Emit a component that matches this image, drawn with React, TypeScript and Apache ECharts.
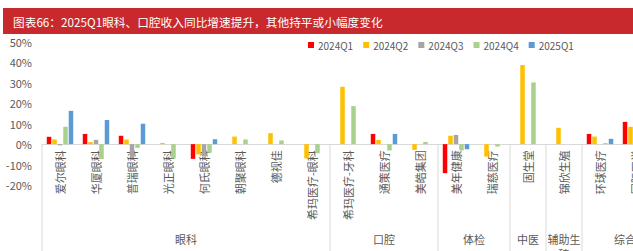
import React, { useEffect, useRef } from "react";
import * as echarts from "echarts";

const categories = [
  "爱尔眼科", "华厦眼科", "普瑞眼科", "光正眼科", "何氏眼科", "朝聚眼科", "德视佳", "希玛医疗-眼科",
  "希玛医疗-牙科", "通策医疗", "美皓集团", "美年健康", "瑞慈医疗", "固生堂", "锦欣生殖", "环球医疗", "国际医学", "",
];
const groupNames = ["眼科", "口腔", "体检", "中医", "辅助生殖", "综合医院"];
const groupSizes = [8, 3, 2, 1, 1, 3];

const seriesNames = ["2024Q1", "2024Q2", "2024Q3", "2024Q4", "2025Q1"];
const colors = ["#FF0000", "#FFC000", "#A5A5A5", "#A9D18E", "#5B9BD5"];

const q1_2024 = [3.6, 5.0, 4.1, 0, -7.2, 0, 0, 0, 0, 5.0, 0, -14.2, 0, 0, 0, 5.0, 10.9, null];
const q2_2024 = [2.3, 1.0, 2.3, 0.6, -5.0, 3.7, 5.4, -7.0, 28.1, 2.1, -2.8, 4.1, -6.1, 38.7, 8.0, 3.7, 8.5, null];
const q3_2024 = [-0.6, 2.1, -6.5, 0, -6.0, 0, 0, 0, 0, 0, 0, 4.5, 0, 0, 0, 0, 0, null];
const q4_2024 = [8.5, -7.3, -1.8, -7.0, -4.2, 2.3, 1.8, -4.5, 18.6, -3.1, 1.1, -3.1, -1.2, 30.2, 0, 0.5, 0, null];
const q1_2025 = [16.3, 11.8, 10.0, 0, 2.4, 0, 0, 0, 0, 5.0, 0, -2.5, 0, 0, 0, 2.6, 0, null];
const seriesData = [q1_2024, q2_2024, q3_2024, q4_2024, q1_2025];

const yTicks = { min: -20, max: 50, interval: 10 };
const titleText = "图表66：2025Q1眼科、口腔收入同比增速提升，其他持平或小幅度变化";

const FONT = "'Noto Sans CJK SC', 'Noto Sans', sans-serif";
const GRAY_TEXT = "#595959";
const LINE = "#D9D9D9";

export default function App() {
  const ref = useRef<HTMLDivElement>(null);
  useEffect(() => {
    if (!ref.current) return;
    const chart = echarts.init(ref.current, null, { renderer: "svg" });
    const option: any = {
      animation: false,
      textStyle: { fontFamily: FONT },
      grid: { left: 42, top: 42, width: 648, height: 143, outerBoundsMode: "none", containLabel: false },
      legend: {
        left: 308,
        top: 40,
        padding: 0,
        itemWidth: 6,
        itemHeight: 6,
        itemGap: 10,
        icon: "rect",
        textStyle: { fontSize: 10, color: GRAY_TEXT, fontFamily: FONT, padding: [0, 0, 0, -1] },
        data: seriesNames,
      },
      xAxis: {
        type: "category",
        data: categories,
        axisLine: { onZero: true, lineStyle: { color: LINE, width: 1 } },
        axisTick: { show: false },
        axisLabel: { show: false },
      },
      yAxis: {
        type: "value",
        min: yTicks.min,
        max: yTicks.max,
        interval: yTicks.interval,
        axisLine: { show: false },
        axisTick: { show: false },
        splitLine: { show: false },
        axisLabel: { formatter: "{value}%", fontSize: 11, color: GRAY_TEXT, margin: 10, fontFamily: FONT },
      },
      series: seriesNames.map((n, i) => ({
        name: n,
        type: "bar",
        data: seriesData[i],
        barWidth: 4.5,
        barGap: "22%",
        itemStyle: { color: colors[i] },
      })),
    };
    chart.setOption(option);

    const c0 = chart.convertToPixel({ xAxisIndex: 0 }, 0) as number;
    const c1 = chart.convertToPixel({ xAxisIndex: 0 }, 1) as number;
    const w = c1 - c0;
    const yZero = chart.convertToPixel({ yAxisIndex: 0 }, 0) as number;
    const graphics: any[] = [
      { type: "rect", shape: { x: 3, y: 8, width: 720, height: 26 }, style: { fill: "#C8292D" }, silent: true },
      {
        type: "text",
        x: 13,
        y: 21,
        style: { text: titleText, fill: "#FFFFFF", font: `11.7px ${FONT}`, textVerticalAlign: "middle" },
        silent: true,
      },
    ];
    categories.forEach((c, i) => {
      if (!c) return;
      const cx = chart.convertToPixel({ xAxisIndex: 0 }, i) as number;
      graphics.push({
        type: "text",
        x: cx,
        y: yZero + 6,
        rotation: Math.PI / 2,
        style: {
          text: c,
          fill: GRAY_TEXT,
          font: `11px ${FONT}`,
          textAlign: "right",
          textVerticalAlign: "middle",
          align: "right",
          verticalAlign: "middle",
        },
        silent: true,
      });
    });
    let idx = 0;
    const bottom = 260;
    graphics.push({ type: "line", shape: { x1: c0 - w / 2, y1: yZero, x2: c0 - w / 2, y2: bottom }, style: { stroke: LINE, lineWidth: 1 } });
    groupNames.forEach((g, gi) => {
      const start = c0 - w / 2 + idx * w;
      const end = start + groupSizes[gi] * w;
      idx += groupSizes[gi];
      graphics.push({ type: "line", shape: { x1: end, y1: yZero, x2: end, y2: bottom }, style: { stroke: LINE, lineWidth: 1 } });
      graphics.push({
        type: "text",
        x: (start + end) / 2,
        y: 231,
        style: {
          text: g,
          width: end - start,
          overflow: "break",
          lineHeight: 15,
          fill: GRAY_TEXT,
          font: `11px ${FONT}`,
          textAlign: "center",
          textVerticalAlign: "top",
          align: "center",
          verticalAlign: "top",
        },
      });
    });
    chart.setOption({ graphic: graphics });
    return () => chart.dispose();
  }, []);
  return (
    <div style={{ position: "absolute", left: 0, top: 0, width: 633, height: 251, overflow: "hidden", background: "#fff" }}>
      <div ref={ref} style={{ width: 720, height: 251 }} />
    </div>
  );
}
